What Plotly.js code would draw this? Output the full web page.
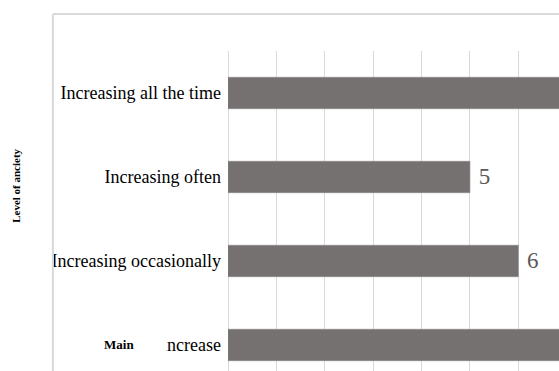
<!DOCTYPE html>
<html>
<head>
<meta charset="utf-8">
<script src="https://cdn.plot.ly/plotly-3.0.1.min.js"></script>
<style>html,body{margin:0;padding:0;background:#fff;}#chart{width:559px;height:371px;}</style>
</head>
<body>
<div id="chart"></div>
<script>
// Data (top to bottom)
const categories = ["Increasing all the time", "Increasing often", "Increasing occasionally", "No increase"];
const counts = [8, 5, 6, 7];
// value labels visible in the reference (the long bars run past the cropped edge)
const valueLabels = ["", "5", "6", ""];
const axisTitle = "Level of anciety";
const overlayLabel = "Main";

const trace = {
  type: "bar",
  orientation: "h",
  y: categories,
  x: counts,
  marker: {color: "#767171", line: {color: "#8a8585", width: 0.5}},
  width: 0.375,
  text: valueLabels,
  texttemplate: " %{text}",
  textposition: "outside",
  cliponaxis: true,
  textfont: {family: "Liberation Sans Narrow", size: 23, color: "#595959"},
  hoverinfo: "skip"
};

const layout = {
  width: 559, height: 371,
  margin: {l: 227.5, r: 0, t: 51, b: 0},
  paper_bgcolor: "#ffffff",
  plot_bgcolor: "#ffffff",
  showlegend: false,
  xaxis: {
    range: [0, 6.84],
    dtick: 1,
    showgrid: true,
    gridcolor: "#d9d9d9",
    gridwidth: 1,
    zeroline: true,
    zerolinecolor: "#d9d9d9",
    zerolinewidth: 1,
    showticklabels: false,
    showline: false,
    ticks: ""
  },
  yaxis: {
    type: "category",
    range: [3.31, -0.5],
    showgrid: false,
    zeroline: false,
    showline: false,
    ticks: "",
    ticklabelstandoff: 6,
    tickfont: {family: "Liberation Serif", size: 18, color: "#000000"}
  },
  shapes: [
    {type: "line", xref: "paper", yref: "paper", x0: -0.529, x1: 1.05, y0: 1.1156, y1: 1.1156,
     line: {color: "#d9d9d9", width: 2}},
    {type: "line", xref: "paper", yref: "paper", x0: -0.529, x1: -0.529, y0: 1.1156, y1: -0.1,
     line: {color: "#d9d9d9", width: 2}}
  ],
  annotations: [
    {text: "<b>" + axisTitle + "</b>", xref: "paper", yref: "paper",
     x: (15 - 227.5) / 331.5, y: (371 - 186) / 320, xanchor: "center", yanchor: "middle",
     textangle: -90, showarrow: false,
     font: {family: "Liberation Serif", size: 11, color: "#000000"}},
    {text: "<b>" + overlayLabel + "</b>", xref: "paper", yref: "paper",
     x: (134 - 227.5) / 331.5, y: (371 - 344) / 320, xanchor: "center", yanchor: "middle",
     showarrow: false, width: 62, height: 28, align: "left", bgcolor: "#ffffff", borderpad: 0,
     font: {family: "Liberation Serif", size: 13, color: "#000000"}}
  ]
};

Plotly.newPlot("chart", [trace], layout, {displayModeBar: false, staticPlot: true});
</script>
</body>
</html>
